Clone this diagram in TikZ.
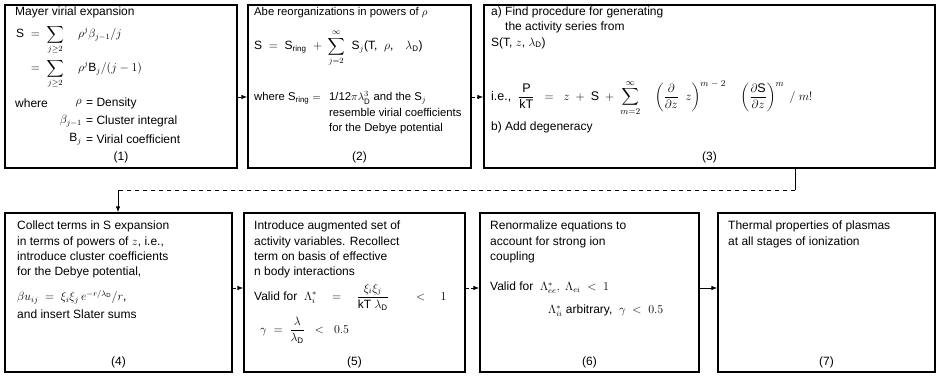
\documentclass[tikz,border=0pt]{standalone}
\usepackage{fontspec}
\setmainfont{Liberation Sans}
\usepackage{amsmath}
\usetikzlibrary{arrows.meta}
\tikzset{
  box/.style={draw, line width=1.3pt, rectangle, inner sep=0pt},
  txt/.style={anchor=north west, inner sep=0pt, align=left, font=\fontsize{12}{15.3}\selectfont},
  stxt/.style={anchor=north west, inner sep=0pt, align=left, font=\fontsize{11.3}{15.3}\selectfont},
  wtxt/.style={anchor=west, inner sep=0pt, font=\fontsize{12}{15.3}\selectfont},
  etxt/.style={anchor=east, inner sep=0pt, font=\fontsize{12}{15.3}\selectfont},
  num/.style={inner sep=0pt, font=\fontsize{12}{15.3}\selectfont},
  arr/.style={-{Latex[length=6pt,width=4.5pt]}, line width=0.9pt},
  darr/.style={arr, dash pattern=on 3pt off 2.5pt},
}
\begin{document}
\begin{tikzpicture}[x=1pt,y=-1pt]
\useasboundingbox (0,0) rectangle (940,377);
% boxes
\node[box, minimum width=232pt, minimum height=163pt] (b1) at (121,86.5) {};
\node[box, minimum width=223pt, minimum height=163pt] (b2) at (359.5,86.5) {};
\node[box, minimum width=451pt, minimum height=163pt] (b3) at (709.5,86.5) {};
\node[box, minimum width=227pt, minimum height=159pt] (b4) at (118.5,292.5) {};
\node[box, minimum width=221pt, minimum height=159pt] (b5) at (354.5,292.5) {};
\node[box, minimum width=219pt, minimum height=159pt] (b6) at (589.5,292.5) {};
\node[box, minimum width=217pt, minimum height=159pt] (b7) at (826.5,292.5) {};
% box 1
\node[txt] (t1a) at (15,7) {Mayer virial expansion};
\node[wtxt] (t1b) at (16,40) {S\; $=\;\displaystyle\sum_{j\ge 2}\quad\rho^j\beta_{j-1}/j$};
\node[wtxt] (t1c) at (16,74) {\phantom{S}\; $=\;\displaystyle\sum_{j\ge 2}\quad\rho^j$B$_j/(j-1)$};
\node[wtxt] (t1d) at (15,103) {where};
\node[etxt] (t1e) at (82,103) {$\rho$};
\node[wtxt] (t1f) at (86,103) {= Density};
\node[etxt] (t1g) at (82,121) {$\beta_{j-1}$};
\node[wtxt] (t1h) at (86,121) {= Cluster integral};
\node[etxt] (t1i) at (82,139) {B$_j$};
\node[wtxt] (t1j) at (86,139) {= Virial coefficient};
\node[num] (n1) at (121,157) {(1)};
% box 2
\node[stxt] (t2a) at (254,7) {Abe reorganizations in powers of $\rho$};
\node[wtxt] (t2b) at (254,48) {S\; $=$\; S$_{\mathrm{ring}}$\; $+\;\displaystyle\sum_{j=2}^{\infty}$\; S$_j$(T,\; $\rho$,\quad $\lambda_{\mathrm D}$)};
\node[stxt] (t2c) at (254,90) {where S$_{\mathrm{ring}}$ $=$\;\, \begin{tabular}[t]{@{}l@{}}1/12$\pi\lambda_{\mathrm D}^3$ and the S$_j$\\resemble virial coefficients\\for the Debye potential\end{tabular}};
\node[num] (n2) at (359.5,157) {(2)};
% box 3
\node[txt] (t3a) at (491,7) {a) Find procedure for generating};
\node[txt] (t3b) at (505,22) {the activity series from};
\node[wtxt] (t3c) at (491,43) {S(T, $z$, $\lambda_{\mathrm D}$)};
\node[wtxt, font=\fontsize{12.5}{15}\selectfont] (t3d) at (491,98) {i.e.,\; $\dfrac{\mathrm P}{\mathrm{kT}} \;\;=\;\; z \;+\; \mathrm S \;+\; \displaystyle\sum_{m=2}^{\infty}\quad\left(\frac{\partial}{\partial z}\;\;z\right)^{m\;-\;2}\quad\left(\frac{\partial \mathrm S}{\partial z}\right)^{m}\;/\;m!$};
\node[wtxt] (t3e) at (491,127) {b) Add degeneracy};
\node[num] (n3) at (709.5,157) {(3)};
% box 4
\node[txt] (t4a) at (17,221) {Collect terms in S expansion\\in terms of powers of $z$, i.e.,\\introduce cluster coefficients\\for the Debye potential,};
\node[wtxt] (t4b) at (17,297) {$\beta u_{ij} \;=\; \xi_i\xi_j\,e^{-r/\lambda_{\mathrm D}}/r$,};
\node[wtxt] (t4c) at (17,314) {and insert Slater sums};
\node[num] (n4) at (118.5,362) {(4)};
% box 5
\node[txt] (t5a) at (254,221) {Introduce augmented set of\\activity variables. Recollect\\term on basis of effective\\n body interactions};
\node[wtxt] (t5b) at (254,297) {Valid for\; $\Lambda^*_{i} \quad=\quad \dfrac{\xi_i\xi_j}{\mathrm{kT}\;\lambda_{\mathrm D}} \qquad<\quad 1$};
\node[wtxt] (t5c) at (260,330) {$\gamma \;=\; \dfrac{\lambda}{\lambda_{\mathrm D}} \;\;<\;\; 0.5$};
\node[num] (n5) at (354.5,362) {(5)};
% box 6
\node[txt] (t6a) at (490,221) {Renormalize equations to\\account for strong ion\\coupling};
\node[wtxt] (t6b) at (490,288) {Valid for\; $\Lambda^*_{ee},\; \Lambda_{ei} \;<\; 1$};
\node[wtxt] (t6c) at (548,311) {$\Lambda^*_{ii}$ arbitrary,\; $\gamma \;<\; 0.5$};
\node[num] (n6) at (589.5,362) {(6)};
% box 7
\node[txt] (t7a) at (728,221) {Thermal properties of plasmas\\at all stages of ionization};
\node[num] (n7) at (826.5,362) {(7)};
% connectors
\draw[darr] (b1.east |- 0,97) -- (b2.west |- 0,97);
\draw[darr] (b2.east |- 0,97) -- (b3.west |- 0,97);
\coordinate (c1) at (795,190);
\coordinate (c2) at (118,190);
\draw[line width=0.9pt] (b3.south -| c1) -- (c1);
\draw[line width=0.7pt, dash pattern=on 4pt off 4pt] (c1) -- (c2);
\draw[arr] (c2) -- (c2 |- b4.north);
\draw[darr] (b4.east |- 0,288) -- (b5.west |- 0,288);
\draw[darr] (b5.east |- 0,288) -- (b6.west |- 0,288);
\draw[arr] (b6.east |- 0,288) -- (b7.west |- 0,288);
\end{tikzpicture}
\end{document}
